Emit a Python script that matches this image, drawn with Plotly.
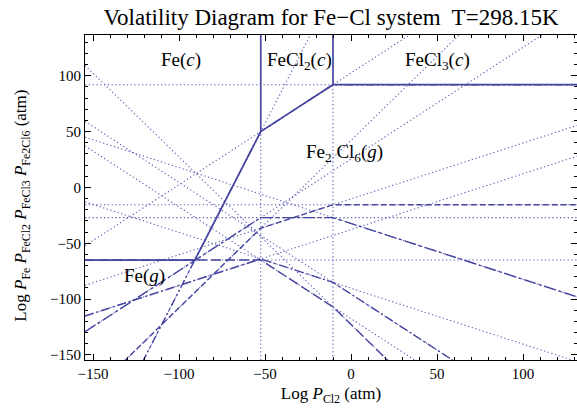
import numpy as np
import plotly.graph_objects as go

# ---------------- data ----------------
x_range = [-154.7, 131.4]
y_range = [-154.5, 136.5]

# phase boundaries in log P_Cl2: Fe(c)/FeCl2(c) and FeCl2(c)/FeCl3(c)
boundaries = [-52.5, -10.5]

# gas species, log P at the Fe/FeCl2 boundary, slopes in the three solid fields
species = ["Fe", "FeCl", "FeCl2", "FeCl3", "Fe2Cl6"]
logp_at_b1 = [-65.0, -64.0, -27.0, -36.5, 50.0]
slope_fe = [0.0, 0.5, 1.0, 1.5, 3.0]
slope_fecl2 = [-1.0, -0.5, 0.0, 0.5, 1.0]
slope_fecl3 = [-1.5, -1.0, -0.5, 0.0, 0.0]
dashes = ["10px,4px", "9px,3px,2px,3px", "12px,3px,3px,3px", "6px,3px", "8px,3px,2px,3px,2px,3px"]

# label positions (data units)
label_text = ["Fe(<i>c</i>)", "FeCl<sub>2</sub>(<i>c</i>)", "FeCl<sub>3</sub>(<i>c</i>)",
              "Fe<sub>2</sub> Cl<sub>6</sub>(<i>g</i>)", "Fe(<i>g</i>)"]
label_x = [-99, -30, 50, -4, -120]
label_y = [114, 113, 113, 31, -79]

COL = "rgb(70,70,160)"
DOT = "rgba(80,80,175,0.9)"
FONT = "Liberation Serif"

# ---------------- helpers ----------------
b1, b2 = boundaries
edges = [x_range[0], b1, b2, x_range[1]]


def region_lines(i):
    v1 = logp_at_b1[i]
    v2 = v1 + slope_fecl2[i] * (b2 - b1)
    return [(slope_fe[i], b1, v1), (slope_fecl2[i], b1, v1), (slope_fecl3[i], b2, v2)]


def val(line, x):
    s, x0, y0 = line
    return y0 + s * (x - x0)


fig = go.Figure()

# dotted metastable extensions
for i in range(len(species)):
    for ln in region_lines(i):
        xs = [x_range[0], x_range[1]]
        fig.add_trace(go.Scatter(x=xs, y=[val(ln, x) for x in xs], mode="lines",
                                 line=dict(color=DOT, width=1.1, dash="1.3px,2.5px"),
                                 hoverinfo="skip", showlegend=False))

# dashed stable paths of each gas
for i, sp in enumerate(species):
    lines = region_lines(i)
    xs = edges
    ys = [val(lines[0], xs[0]), val(lines[0], b1), val(lines[1], b2), val(lines[2], xs[3])]
    fig.add_trace(go.Scatter(x=xs, y=ys, mode="lines", name=sp,
                             line=dict(color=COL, width=1.4, dash=dashes[i]),
                             showlegend=False))

# envelope (dominant vapour), solid
cand = set(edges)
for r in range(3):
    lo, hi = edges[r], edges[r + 1]
    lns = [region_lines(i)[r] for i in range(len(species))]
    for a in range(len(lns)):
        for b in range(a + 1, len(lns)):
            sa, sb = lns[a][0], lns[b][0]
            if sa != sb:
                ca = lns[a][2] - sa * lns[a][1]
                cb = lns[b][2] - sb * lns[b][1]
                x = (cb - ca) / (sa - sb)
                if lo < x < hi:
                    cand.add(x)
cand = sorted(cand)


def envelope(x):
    r = 0 if x < b1 else (1 if x < b2 else 2)
    return max(val(region_lines(i)[r], x) for i in range(len(species)))


env_x = cand
env_y = [envelope(x) for x in env_x]
fig.add_trace(go.Scatter(x=env_x, y=env_y, mode="lines",
                         line=dict(color=COL, width=1.7), showlegend=False))

# phase boundaries: solid above the envelope, dotted below
for b in boundaries:
    e = envelope(b)
    fig.add_trace(go.Scatter(x=[b, b], y=[e, y_range[1]], mode="lines",
                             line=dict(color=COL, width=1.7), showlegend=False))
    fig.add_trace(go.Scatter(x=[b, b], y=[y_range[0], e], mode="lines",
                             line=dict(color=DOT, width=1.1, dash="1.3px,2.5px"),
                             showlegend=False))

for t, x, y in zip(label_text, label_x, label_y):
    fig.add_annotation(x=x, y=y, text=t, showarrow=False,
                       font=dict(family=FONT, size=19, color="black"))

# y-axis title as rotated annotation
fig.add_annotation(xref="paper", yref="paper", x=-0.128, y=0.475, textangle=-90,
                   text="Log <i>P</i><sub>Fe</sub> <i>P</i><sub>FeCl2</sub> "
                        "<i>P</i><sub>FeCl3</sub> <i>P</i><sub>Fe2Cl6</sub> (atm)",
                   showarrow=False, xanchor="center", yanchor="middle",
                   font=dict(family=FONT, size=17, color="black"))

axis_common = dict(showline=True, linecolor="black", linewidth=1, mirror="allticks",
                   ticks="inside", ticklen=6, tickcolor="black", showgrid=False,
                   zeroline=False, dtick=50,
                   tickfont=dict(family=FONT, size=15, color="black"),
                   minor=dict(dtick=10, ticks="inside", ticklen=3, tickcolor="black"))

fig.update_xaxes(range=x_range, tick0=0, **axis_common,
                 title=dict(text="Log <i>P</i><sub>Cl2</sub> (atm)",
                            font=dict(family=FONT, size=17, color="black"), standoff=6))
fig.update_yaxes(range=y_range, tick0=0, **axis_common)

fig.update_layout(
    width=577, height=411,
    margin=dict(l=85, r=0, t=35, b=51),
    paper_bgcolor="white", plot_bgcolor="white",
    title=dict(text="Volatility Diagram for Fe\u2212Cl system  T=298.15K",
               x=0.5, xref="paper", y=1 - 17 / 411, yref="container", yanchor="middle",
               font=dict(family=FONT, size=23, color="black")),
)

fig.write_html("out.html")
